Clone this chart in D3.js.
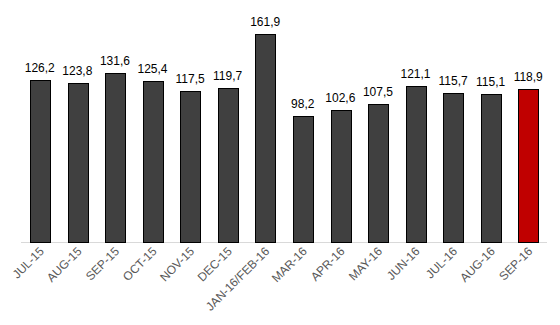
<!DOCTYPE html>
<html><head><meta charset="utf-8">
<script src="https://cdn.jsdelivr.net/npm/d3@7"></script>
<style>body{margin:0;background:#fff}</style>
</head><body>
<svg id="c" width="560" height="325"></svg>
<script>
const categories = ["JUL-15","AUG-15","SEP-15","OCT-15","NOV-15","DEC-15","JAN-16/FEB-16","MAR-16","APR-16","MAY-16","JUN-16","JUL-16","AUG-16","SEP-16"];
const values = [126.2,123.8,131.6,125.4,117.5,119.7,161.9,98.2,102.6,107.5,121.1,115.7,115.1,118.9];
const highlight = ["SEP-16"];

const svg = d3.select("#c");
const x = d3.scaleBand().domain(categories).range([21,547]).paddingInner(0.48).paddingOuter(0.24);
const y = d3.scaleLinear().domain([0,161.9]).range([242,34]);
const fmt = v => d3.format(".1f")(v).replace(".", ",");

svg.append("line").attr("x1",21).attr("x2",547).attr("y1",242.5).attr("y2",242.5)
  .attr("stroke","#d9d9d9").attr("stroke-width",1);

svg.selectAll("rect.bar").data(categories).join("rect")
  .attr("x", d=>Math.round(x(d))+0.5)
  .attr("y", (d,i)=>Math.round(y(values[i]))+0.5)
  .attr("width", Math.round(x.bandwidth()))
  .attr("height", (d,i)=>242-Math.round(y(values[i])))
  .attr("fill", d=>highlight.includes(d)?"#c00000":"#404040")
  .attr("stroke","#000").attr("stroke-width",1);

svg.selectAll("text.val").data(categories).join("text")
  .attr("x", d=>x(d)+x.bandwidth()/2)
  .attr("y", (d,i)=>y(values[i])-8)
  .attr("text-anchor","middle")
  .attr("font-family","Liberation Sans, Arial, sans-serif")
  .attr("font-size",12).attr("fill","#000")
  .text((d,i)=>fmt(values[i]));

svg.selectAll("text.cat").data(categories).join("text")
  .attr("transform", d=>`translate(${x(d)+x.bandwidth()/2+5},${252}) rotate(-45)`)
  .attr("text-anchor","end")
  .attr("font-family","Liberation Sans, Arial, sans-serif")
  .attr("font-size",12).attr("fill","#595959")
  .text(d=>d);
</script>
</body></html>
